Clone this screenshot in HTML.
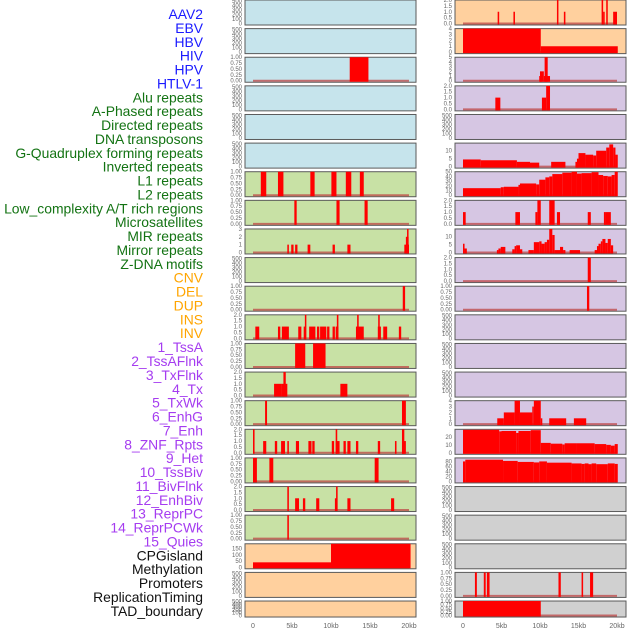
<!DOCTYPE html>
<html><head><meta charset="utf-8">
<style>
body{margin:0;background:#fff;}
svg{display:block;font-family:"Liberation Sans",sans-serif;}
</style></head>
<body>
<svg id="chart" width="630" height="630" viewBox="0 0 630 630" xmlns="http://www.w3.org/2000/svg"></svg>
<script>
// ---- track labels ----
const trackLabels = ["AAV2","EBV","HBV","HIV","HPV","HTLV-1","Alu repeats","A-Phased repeats","Directed repeats","DNA transposons","G-Quadruplex forming repeats","Inverted repeats","L1 repeats","L2 repeats","Low_complexity A/T rich regions","Microsatellites","MIR repeats","Mirror repeats","Z-DNA motifs","CNV","DEL","DUP","INS","INV","1_TssA","2_TssAFlnk","3_TxFlnk","4_Tx","5_TxWk","6_EnhG","7_Enh","8_ZNF_Rpts","9_Het","10_TssBiv","11_BivFlnk","12_EnhBiv","13_ReprPC","14_ReprPCWk","15_Quies","CPGisland","Methylation","Promoters","ReplicationTiming","TAD_boundary"];
const labelGroups = [6,13,5,15,5];
const groupColors = ["#1a1aff","#137313","#ffa500","#a53cf0","#111111"];
const xTickValues = [0,5,10,15,20];
const xTickLabels = ["0","5kb","10kb","15kb","20kb"];

// ---- left column panels: [start kb, end kb, value] ----
const L1 = [], L2 = [];
const L3 = [[12.4,14.8,1]];
const L4 = [], L5 = [], L6 = [];
const L7 = [[1.0,1.7,1],[3.2,3.9,1],[7.35,7.9,1],[10.05,10.7,1],[11.9,12.6,1],[13.7,14.2,1]];
const L8 = [[5.3,5.6,1],[10.7,11.1,1],[14.3,14.7,1]];
const L9 = [[4.4,4.6,1],[4.9,5.2,1],[5.4,5.7,1],[7.0,7.35,1],[10.2,10.5,1],[12.1,12.5,1],[19.4,20.0,1],[19.6,19.95,2],[19.75,19.9,3]];
const L10 = [];
const L11 = [[19.2,19.5,1]];
const L12 = [[0.3,0.8,1],[3.2,3.5,1],[3.7,4.6,1],[5.8,6.2,1],[6.5,6.8,1],[6.65,6.8,2],[7.2,8.0,1],[8.2,8.5,1],[8.6,9.4,1],[9.5,9.8,1],[10.2,10.5,1],[10.6,10.95,1],[10.75,10.95,2],[13.2,14.2,1],[13.35,13.55,2],[16.0,16.4,1],[16.05,16.25,2],[16.7,17.2,1],[18.7,19.0,1]];
const L13 = [[5.4,6.7,1],[7.7,9.3,1]];
const L14 = [[2.7,3.6,1],[3.6,4.4,1],[3.9,4.2,2],[11.2,12.1,1]];
const L15 = [[1.55,1.8,1],[19.1,19.6,1]];
const L16 = [[0.0,0.2,2],[1.3,1.7,1],[2.8,3.1,1],[3.6,4.1,1],[4.4,4.6,1],[5.5,5.9,1],[7.1,7.5,1],[7.6,7.9,1],[10.1,10.4,1],[10.6,10.8,2],[10.6,11.1,1],[11.6,11.9,1],[12.1,12.5,1],[13.2,13.5,1],[16.0,16.3,1],[18.2,18.4,1],[19.1,19.4,2],[19.1,19.6,1]];
const L17 = [[0.0,0.5,1],[2.1,2.6,1],[15.6,16.1,1]];
const L18 = [[4.4,4.6,2],[5.4,5.9,1],[6.4,6.7,1],[8.1,8.5,1],[10.5,10.8,1],[10.65,10.85,2],[12.1,12.5,1],[17.7,18.1,1]];
const L19 = [[4.4,4.6,1]];
const L20 = [[0,10.0,40],[10.0,20.2,200]];
const L21 = [], L22 = [];

// ---- right column panels ----
const R1 = [[4.5,4.7,1],[6.55,6.75,1],[12.2,12.35,2],[13.1,13.3,1],[18.0,18.2,2],[18.2,18.4,1],[18.6,18.8,2],[19.5,20.0,1]];
const R2 = [[0,10.1,4],[10.1,20.1,1]];
const R3 = [[9.9,10.2,1],[10.0,10.5,2],[10.6,11.0,5],[10.5,11.3,1]];
const R4 = [[4.2,4.85,1],[10.25,10.8,1],[10.8,11.3,2]];
const R5 = [];
const R6 = [[0,2.3,4.5],[2.3,7.0,4],[7.0,8.7,3],[8.7,9.9,2.5],[11.45,13.3,3],[14.6,15.0,3],[14.8,15.0,5],[15.0,15.9,8.5],[15.9,16.9,7.5],[16.9,17.3,7],[17.3,18.6,10],[18.6,19.0,12],[19.0,19.5,14],[19.5,19.8,12],[19.8,20.1,7.5]];
const R7 = [[0,4.9,15],[4.9,5.3,17],[5.3,7.2,18],[7.2,7.4,22],[7.4,9.5,25],[9.5,9.9,23],[9.9,10.7,33],[10.7,11.2,38],[11.2,11.6,40],[11.6,12.9,45],[12.9,14.1,48],[14.1,14.8,50],[14.8,15.4,46],[15.4,16.7,47],[16.7,17.6,49],[17.6,18.2,43],[18.2,18.8,41],[18.8,19.3,40],[19.3,19.7,43],[19.7,20.1,50]];
const R8 = [[0,0.35,1],[6.8,7.4,1],[9.4,9.66,1],[9.66,10.1,2],[11.2,11.9,2],[12.2,12.6,1],[16.2,16.6,1],[18.3,18.5,1],[18.5,19.2,1]];
const R9 = [[0,0.2,5.5],[0.2,0.5,2.5],[4.4,4.6,1.5],[4.6,4.9,2.5],[4.9,5.5,3.5],[6.4,6.7,2],[6.7,6.9,4],[6.9,7.4,4.5],[7.4,7.7,2],[8.5,9.2,1.5],[9.2,9.9,6.5],[9.9,10.2,7],[10.2,10.6,5.5],[10.6,10.9,6.5],[10.9,11.2,8],[11.2,11.6,15],[11.6,11.9,11],[11.9,12.6,1.5],[12.6,13.0,3.5],[13.0,13.3,1.5],[13.85,15.2,1.5],[17.1,17.4,1.5],[17.4,17.6,4],[17.6,17.9,5.5],[17.9,18.1,7],[18.1,18.5,8.5],[18.5,18.8,6],[18.8,19.2,8.5],[19.2,19.5,4.5]];
const R10 = [[16.2,16.6,2]];
const R11 = [[16.1,16.4,1]];
const R12 = [], R13 = [], R14 = [];
const R15 = [[4.45,5.3,1],[5.3,6.7,2],[6.7,7.4,4],[7.4,9.0,2],[9.0,9.2,3],[9.2,10.1,4],[10.1,10.3,1],[11.2,13.4,1],[14.4,16.0,1]];
const R16 = [[0,4.7,29],[4.7,5.0,27],[5.0,6.9,27.5],[6.9,7.2,25],[7.2,8.8,27.5],[8.8,10.1,28.5],[10.1,11.4,12.5],[11.4,12.9,11.5],[12.9,13.2,10.5],[13.2,14.8,12],[14.8,17.1,12],[17.1,18.6,11],[18.6,19.2,10],[19.2,19.7,9],[19.7,20.1,11]];
const R17 = [[0,0.3,80],[0.3,5.2,87],[5.2,7.1,82],[7.1,9.2,78],[9.2,9.9,76],[9.9,10.9,80],[10.9,14.1,75],[14.1,15.4,72],[15.4,15.8,70],[15.8,16.3,72],[16.3,16.7,69],[16.7,17.3,72],[17.3,18.8,69],[18.8,19.7,72],[19.7,20.1,70]];
const R18 = [], R19 = [], R20 = [];
const R21 = [[1.55,1.8,1],[2.7,2.95,1],[3.1,3.45,1],[12.4,12.7,1],[15.4,15.6,1],[16.5,16.9,1]];
const R22 = [[0,10.1,1]];

// y-axis maxima & tick labels per panel
const leftYMax = [520,520,1,520,520,520,1,1,3,520,1,2,1,2,1,2,1,2,1,190,520,520];
const rightYMax = [2,4,5,2,520,14.8,50,2,14.8,2,1,520,520,520,4,29.6,94,520,520,520,1,1];
const leftTicks = ["e","e","q","e","e","e","q","q","t3","e","q","h","q","h","q","h","q","h","q","c","e","e"];
const rightTicks = ["h","f4","f5","h","e","f10","f50","h","f10","h","q","e","e","e","f4","f20","f80","e","e","e","q","q"];
const tickSets = {
 e:["0","100","200","300","400","500"],
 q:["0.00","0.25","0.50","0.75","1.00"],
 h:["0.0","0.5","1.0","1.5","2.0"],
 t3:["0","1","2","3"],
 c:["0","50","100","150"],
 f4:["0","1","2","3","4"],
 f5:["0","1","2","3","4","5"],
 f10:["0","5","10"],
 f50:["0","10","20","30","40","50"],
 f20:["0","10","20"],
 f80:["0","20","40","60","80"]
};
const leftColors = [0,0,0,0,0,0,1,1,1,1,1,1,1,1,1,1,1,1,1,2,2,2];
const rightColors = [2,2,3,3,3,3,3,3,3,3,3,3,3,3,3,3,3,4,4,4,4,4];
const panelFills = ["#c6e4ec","#c8e1a5","#ffd09e","#d6c6e3","#d0d0d0"];

const leftData = [L1,L2,L3,L4,L5,L6,L7,L8,L9,L10,L11,L12,L13,L14,L15,L16,L17,L18,L19,L20,L21,L22];
const rightData = [R1,R2,R3,R4,R5,R6,R7,R8,R9,R10,R11,R12,R13,R14,R15,R16,R17,R18,R19,R20,R21,R22];

const svg = document.getElementById('chart');
const NS = "http://www.w3.org/2000/svg";
function mk(tag, attrs){ const e=document.createElementNS(NS,tag); for(const k in attrs) e.setAttribute(k,attrs[k]); svg.appendChild(e); return e; }

// labels
let li=0;
labelGroups.forEach((n,g)=>{ for(let j=0;j<n;j++){ const t=mk('text',{x:203,y:(19+li*13.88).toFixed(1),'text-anchor':'end','font-size':'13.9',fill:groupColors[g]});
  t.textContent=trackLabels[li];
  
  
  li++; }});

const cols = [
 {x0:245,x1:416,k0:253,k1:409,data:leftData,ymax:leftYMax,ticks:leftTicks,colors:leftColors,name:'left'},
 {x0:455,x1:626,k0:463,k1:617,data:rightData,ymax:rightYMax,ticks:rightTicks,colors:rightColors,name:'right'}
];
cols.forEach(c=>{
  const xs = kb => c.k0 + kb*(c.k1-c.k0)/20;
  c.data.forEach((segs,i)=>{
    const top = i*28.62, h = (i===21?16:25), bot = top+h;
    const y0 = bot-1.5, ymax=c.ymax[i];
    const ys = v => y0 - (v/ymax)*(y0-top);
    const bg = mk('rect',{x:c.x0,y:top,width:c.x1-c.x0,height:h,fill:panelFills[c.colors[i]],stroke:'#5a5a5a','stroke-width':1});
    
    
    const tl = tickSets[c.ticks[i]];
    tl.forEach(lbl=>{ const v=parseFloat(lbl); const t=mk('text',{x:c.x0-3,y:(ys(v)+2).toFixed(1),'text-anchor':'end','font-size':'6',fill:'#666'});
      t.textContent=lbl;
      
       });
    if(segs.length){
      const bl = mk('line',{x1:xs(0),x2:xs(20),y1:y0,y2:y0,stroke:'rgba(190,70,70,0.75)','stroke-width':2});
      
      
    }
    segs.forEach(s=>{
      const v=Math.min(s[2],ymax);
      const r=mk('rect',{x:xs(s[0]).toFixed(2),y:ys(v).toFixed(2),width:Math.max(1.5,xs(s[1])-xs(s[0])).toFixed(2),height:(y0-ys(v)+1).toFixed(2),fill:'#ff0000'});
      
      
    });
  });
  xTickValues.forEach((v,k)=>{ const t=mk('text',{x:xs(v),y:628,'text-anchor':'middle','font-size':'7',fill:'#666'});
    t.textContent=xTickLabels[k];
    
     });
});
</script>
</body></html>
